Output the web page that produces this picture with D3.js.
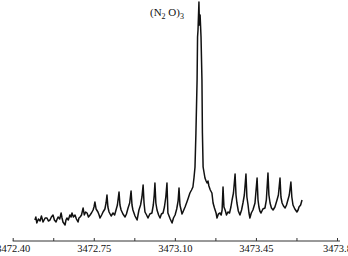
<!DOCTYPE html>
<html><head><meta charset="utf-8">
<script src="https://cdn.jsdelivr.net/npm/d3@7"></script>
<style>
html,body{margin:0;padding:0;background:#fff;}
svg{display:block;}
</style></head>
<body>
<svg id="c" width="348" height="256"></svg>
<script>
// wavenumber (cm^-1)
const wavenumber = [
3472.496,3472.500,3472.504,3472.511,3472.518,3472.524,3472.531,3472.540,3472.548,3472.554,
3472.561,3472.567,3472.574,3472.580,3472.587,3472.592,3472.596,3472.603,3472.609,3472.613,
3472.617,3472.626,3472.630,3472.634,3472.640,3472.647,3472.652,3472.656,3472.662,3472.669,
3472.675,3472.682,3472.686,3472.691,3472.697,3472.704,3472.709,3472.715,3472.721,3472.727,
3472.734,3472.740,3472.747,3472.751,3472.755,3472.760,3472.768,3472.773,3472.777,3472.784,
3472.790,3472.798,3472.803,3472.807,3472.811,3472.816,3472.825,3472.833,3472.840,3472.846,
3472.852,3472.859,3472.863,3472.868,3472.876,3472.885,3472.891,3472.898,3472.905,3472.911,
3472.915,3472.919,3472.928,3472.937,3472.941,3472.945,3472.952,3472.958,3472.963,3472.967,
3472.971,3472.978,3472.984,3472.992,3473.001,3473.007,3473.011,3473.014,3473.018,3473.023,
3473.030,3473.036,3473.042,3473.049,3473.055,3473.061,3473.066,3473.070,3473.080,3473.088,
3473.094,3473.101,3473.108,3473.114,3473.118,3473.122,3473.127,3473.131,3473.135,3473.144,
3473.152,3473.158,3473.165,3473.172,3473.178,3473.183,3473.187,3473.191,3473.196,3473.198,
3473.200,3473.204,3473.206,3473.209,3473.213,3473.217,3473.219,3473.222,3473.230,3473.235,
3473.239,3473.243,3473.247,3473.253,3473.260,3473.265,3473.271,3473.278,3473.282,3473.288,
3473.295,3473.300,3473.304,3473.308,3473.312,3473.317,3473.323,3473.329,3473.336,3473.342,
3473.347,3473.353,3473.360,3473.364,3473.368,3473.374,3473.381,3473.388,3473.394,3473.400,
3473.407,3473.411,3473.416,3473.420,3473.424,3473.430,3473.437,3473.446,3473.455,3473.459,
3473.463,3473.467,3473.472,3473.480,3473.489,3473.495,3473.502,3473.506,3473.511,3473.517,
3473.524,3473.532,3473.541,3473.547,3473.554,3473.558,3473.563,3473.569,3473.576,3473.582,
3473.588,3473.594,3473.601,3473.605,3473.610,3473.618,3473.627,3473.632,3473.636,3473.643,
3473.649
];
// intensity (arb. units)
const intensity = [
5,8,2,6,4,9,3,7,7,4,
5,8,10,5,3,6,8,6,12,7,
3,0,5,7,5,10,8,12,8,10,
6,3,7,8,10,17,10,13,12,8,
10,12,15,18,23,16,13,10,7,10,
13,16,22,30,18,13,9,12,10,15,
20,33,20,15,11,8,11,17,22,34,
20,15,9,5,10,15,20,28,40,22,
13,10,7,11,12,20,30,42,22,15,
10,7,11,12,18,28,42,12,6,2,
7,10,16,24,37,20,15,11,13,18,
23,27,32,35,38,48,58,92,145,188,
195,223,200,210,188,145,92,58,47,44,
42,44,39,35,32,22,17,12,7,11,
12,10,15,38,18,15,10,13,12,18,
25,32,51,30,22,14,10,15,22,30,
51,28,20,12,7,12,15,22,47,25,
18,14,12,16,17,25,52,30,22,17,
15,18,25,30,47,28,22,19,17,20,
25,30,43,28,20,16,13,15,18,20,
25
];
const tickValues = [3472.40,3472.575,3472.75,3472.925,3473.10,3473.275,3473.45,3473.625,3473.80];
const tickLabels = ["3472.40","","3472.75","","3473.10","","3473.45","","3473.8"];

const svg = d3.select("#c");
const x = d3.scaleLinear().domain([3472.40, 3473.80]).range([12.7, 337]);
const y = d3.scaleLinear().domain([0, 223]).range([225, 2]);

const data = wavenumber.map((w,i)=>({w, v: intensity[i]}));

svg.append("path")
  .datum(data)
  .attr("fill","none")
  .attr("stroke","#111")
  .attr("stroke-width",1.5)
  .attr("stroke-linejoin","round")
  .attr("d", d3.line().x(d=>x(d.w)).y(d=>y(d.v)));

const axis = d3.axisBottom(x)
  .tickValues(tickValues)
  .tickFormat((d,i)=>tickLabels[i])
  .tickSizeInner(-3)
  .tickSizeOuter(0)
  .tickPadding(4);

const g = svg.append("g").attr("transform","translate(0,241)").call(axis);
g.select(".domain").attr("stroke","#333").attr("d","M12.7,0H340");
g.selectAll(".tick line").attr("stroke","#333");
g.selectAll(".tick text")
  .attr("fill","#111")
  .attr("font-family","'Liberation Serif', 'Times New Roman', serif")
  .attr("font-size","10.5px");

const t = svg.append("text")
  .attr("x",150).attr("y",16)
  .attr("font-family","'Liberation Serif', 'Times New Roman', serif")
  .attr("font-size","11px")
  .attr("fill","#111");
t.append("tspan").text("(N");
t.append("tspan").attr("dy",3).attr("font-size","8px").text("2");
t.append("tspan").attr("dy",-3).text(" O)");
t.append("tspan").attr("dy",3).attr("font-size","8px").text("3");
</script>
</body></html>
